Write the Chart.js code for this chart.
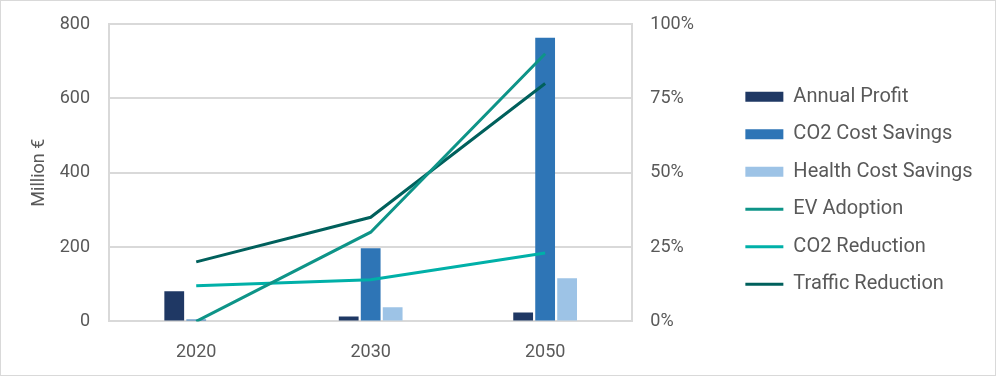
<!DOCTYPE html>
<html>
<head>
<meta charset="utf-8">
<script src="https://cdn.jsdelivr.net/npm/chart.js@4/dist/chart.umd.min.js"></script>
<style>
  html, body { margin: 0; padding: 0; background: #fff; }
  .wrap { width: 996px; height: 376px; box-sizing: border-box; border: 1px solid #d9d9d9; }
</style>
</head>
<body>
<div class="wrap"><canvas id="chart"></canvas></div>
<script>
const categories = ['2020', '2030', '2050'];

// million €
const annualProfit = [81, 13, 24];
const co2CostSavings = [5, 197, 763];
const healthCostSavings = [0, 38, 116];

// share, right axis
const evAdoption = [0, 0.30, 0.90];
const co2Reduction = [0.12, 0.14, 0.23];
const trafficReduction = [0.20, 0.35, 0.80];

const textColor = '#595959';
const gridColor = '#d9d9d9';
const font = { family: 'Roboto', size: 18, weight: 400 };

const barDs = (label, data, color) => ({
  type: 'bar', label, data, backgroundColor: color, borderWidth: 0,
  yAxisID: 'y', order: 1, pointStyle: 'rect',
  categoryPercentage: 0.378, barPercentage: 0.9
});
const lineDs = (label, data, color) => ({
  type: 'line', label, data, borderColor: color, backgroundColor: color,
  borderWidth: 3, pointRadius: 0, tension: 0, yAxisID: 'y1', order: 0, pointStyle: 'line'
});

// fixed axis widths; plot top set here so the legend can use the full height
const fixAxis = w => axis => {
  axis.width = w;
  axis.paddingTop = 23;
  axis.paddingBottom = 0;
};

function draw() {
  new Chart(document.getElementById('chart'), {
    data: {
      labels: categories,
      datasets: [
        barDs('Annual Profit', annualProfit, '#1f3864'),
        barDs('CO2 Cost Savings', co2CostSavings, '#2e75b6'),
        barDs('Health Cost Savings', healthCostSavings, '#9dc3e6'),
        lineDs('EV Adoption', evAdoption, '#0e9488'),
        lineDs('CO2 Reduction', co2Reduction, '#00b0a8'),
        lineDs('Traffic Reduction', trafficReduction, '#00605c')
      ]
    },
    options: {
      responsive: true,
      maintainAspectRatio: false,
      animation: false,
      layout: { padding: { top: 5, bottom: 0, left: 24, right: 12.5 } },
      plugins: {
        tooltip: { enabled: false },
        legend: {
          position: 'right',
          maxWidth: 400,
          labels: {
            sort: (a, b) => a.datasetIndex - b.datasetIndex,
            usePointStyle: true,
            pointStyleWidth: 38,
            boxHeight: 10,
            padding: 17.5,
            color: textColor,
            font: { family: 'Roboto', size: 20, weight: 400 }
          }
        }
      },
      scales: {
        x: {
          grid: { display: false },
          border: { display: true, color: gridColor, width: 2 },
          ticks: { color: textColor, font: font, padding: 12 }
        },
        y: {
          position: 'left',
          min: 0, max: 800,
          afterFit: fixAxis(84),
          ticks: { stepSize: 200, color: textColor, font: font, padding: 19 },
          grid: { color: gridColor, lineWidth: 2, drawTicks: false },
          border: { display: true, color: gridColor, width: 2 },
          title: { display: true, text: 'Million €', color: textColor, font: font, padding: { top: 4, bottom: 8 } }
        },
        y1: {
          position: 'right',
          min: 0, max: 1,
          afterFit: fixAxis(95.5),
          ticks: {
            stepSize: 0.25, color: textColor, font: font, padding: 18,
            callback: v => Math.round(v * 100) + '%'
          },
          grid: { display: false, drawTicks: false },
          border: { display: true, color: gridColor, width: 2 }
        }
      }
    }
  });
}

document.fonts.load('400 18px Roboto').then(draw, draw);
</script>
</body>
</html>
